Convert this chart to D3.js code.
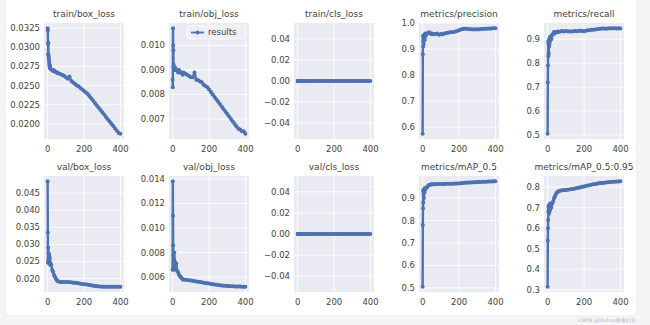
<!DOCTYPE html>
<html>
<head>
<meta charset="utf-8">
<script src="https://cdn.jsdelivr.net/npm/d3@7"></script>
<style>
  body { margin: 0; background: #f4f5f7; }
  text { font-family: "DejaVu Sans", sans-serif; }
</style>
</head>
<body>
<svg id="chart"></svg>
<script>
const width = 650;
const height = 325;

const epochs = [0, 1, 2, 3, 4, 5, 6, 7, 8, 9, 10, 11, 12, 13, 14, 15,
  20, 25, 30, 35, 40, 45, 50, 55, 60,
  70, 80, 90, 100, 110, 120, 130, 140, 150, 160, 170, 180, 190, 200, 210, 220,
  230, 240, 250, 260, 270, 280, 290, 300, 310, 320, 330, 340, 350, 360, 370, 380, 390, 399];

const trainBoxLoss = [0.0325, 0.0322, 0.0305, 0.0291, 0.0306, 0.0290, 0.0287, 0.0284, 0.0282, 0.0279, 0.0277, 0.0276, 0.0274, 0.0276, 0.0273, 0.0272,
  0.0271, 0.0270, 0.0269, 0.0270, 0.0268, 0.0268, 0.0267, 0.0266, 0.0266,
  0.0265, 0.0264, 0.0263, 0.0261, 0.0259, 0.0262, 0.0256, 0.0254, 0.0252, 0.0250, 0.0249, 0.0247, 0.0245, 0.0243, 0.0241, 0.0239,
  0.0236, 0.0233, 0.0230, 0.0227, 0.0224, 0.0221, 0.0218, 0.0215, 0.0212, 0.0209, 0.0206, 0.0203, 0.0200, 0.0197, 0.0194, 0.0191, 0.0188, 0.0187];

const trainObjLoss = [0.0086, 0.0083, 0.0107, 0.0100, 0.0098, 0.0091, 0.0092, 0.0090, 0.0091, 0.0090, 0.0091, 0.0090, 0.0090, 0.0091, 0.0090, 0.0090,
  0.0090, 0.0090, 0.0089, 0.0090, 0.0089, 0.0089, 0.0089, 0.0088, 0.0089,
  0.00885, 0.0088, 0.00875, 0.0087, 0.0087, 0.0089, 0.0086, 0.00858, 0.00853, 0.0085, 0.0084, 0.00835, 0.0083, 0.0082, 0.0081, 0.0080,
  0.0079, 0.0078, 0.0077, 0.0076, 0.0075, 0.0074, 0.0073, 0.0072, 0.0071, 0.0070, 0.0069, 0.0068, 0.0067, 0.0066, 0.00657, 0.0065, 0.0065, 0.0064];

const clsLoss = [0, 0, 0, 0, 0, 0, 0, 0, 0, 0, 0, 0, 0, 0, 0, 0,
  0, 0, 0, 0, 0, 0, 0, 0, 0,
  0, 0, 0, 0, 0, 0, 0, 0, 0, 0, 0, 0, 0, 0, 0, 0,
  0, 0, 0, 0, 0, 0, 0, 0, 0, 0, 0, 0, 0, 0, 0, 0, 0, 0];

const precision = [0.575, 0.88, 0.95, 0.91, 0.93, 0.94, 0.92, 0.95, 0.94, 0.955, 0.945, 0.95, 0.935, 0.955, 0.96, 0.95,
  0.955, 0.96, 0.962, 0.965, 0.962, 0.958, 0.96, 0.958, 0.957,
  0.958, 0.96, 0.955, 0.958, 0.957, 0.96, 0.962, 0.963, 0.965, 0.965, 0.966, 0.968, 0.97, 0.972, 0.975, 0.977,
  0.978, 0.978, 0.977, 0.976, 0.976, 0.975, 0.976, 0.975, 0.976, 0.977, 0.977, 0.978, 0.978, 0.979, 0.978, 0.98, 0.98, 0.98];

const recall = [0.505, 0.72, 0.79, 0.89, 0.83, 0.88, 0.84, 0.89, 0.87, 0.90, 0.88, 0.90, 0.89, 0.91, 0.90, 0.91,
  0.90, 0.92, 0.92, 0.93, 0.925, 0.93, 0.93, 0.932, 0.93,
  0.932, 0.935, 0.933, 0.935, 0.934, 0.933, 0.932, 0.934, 0.935, 0.934, 0.935, 0.936, 0.935, 0.934, 0.936, 0.938,
  0.938, 0.94, 0.94, 0.941, 0.942, 0.943, 0.944, 0.945, 0.945, 0.944, 0.945, 0.946, 0.945, 0.946, 0.946, 0.945, 0.946, 0.945];

const valBoxLoss = [0.0485, 0.0335, 0.0248, 0.0290, 0.0255, 0.0275, 0.0245, 0.0265, 0.0250, 0.0270, 0.0255, 0.0248, 0.0260, 0.0245, 0.0240, 0.0245,
  0.0240, 0.0225, 0.0220, 0.0210, 0.0205, 0.0200, 0.0195, 0.0193, 0.0191,
  0.0190, 0.0190, 0.0190, 0.0190, 0.0190, 0.0189, 0.0189, 0.0188, 0.0188, 0.0187, 0.0186, 0.0185, 0.0184, 0.0183, 0.0183, 0.0182,
  0.0181, 0.0180, 0.0179, 0.0178, 0.0178, 0.0177, 0.0177, 0.0176, 0.0176, 0.0176, 0.0176, 0.0176, 0.0176, 0.0176, 0.0176, 0.0176, 0.0176, 0.0176];

const valObjLoss = [0.0066, 0.0138, 0.0110, 0.0086, 0.0078, 0.0068, 0.0072, 0.0066, 0.0075, 0.0080, 0.0070, 0.0073, 0.0068, 0.0071, 0.0069, 0.0067,
  0.0071, 0.0065, 0.0064, 0.0062, 0.0061, 0.0060, 0.0059, 0.0058, 0.0058,
  0.00578, 0.00576, 0.00574, 0.00572, 0.0057, 0.00568, 0.00565, 0.00563, 0.0056, 0.00558, 0.00555, 0.00553, 0.0055, 0.00548, 0.00545, 0.00543,
  0.0054, 0.00538, 0.00536, 0.00534, 0.00532, 0.0053, 0.0053, 0.00528, 0.00527, 0.00526, 0.00525, 0.00524, 0.00524, 0.00523, 0.00523, 0.00522, 0.00522, 0.00522];

const map50 = [0.505, 0.78, 0.855, 0.935, 0.88, 0.92, 0.93, 0.90, 0.93, 0.94, 0.925, 0.94, 0.935, 0.945, 0.94, 0.945,
  0.945, 0.95, 0.955, 0.958, 0.96, 0.961, 0.962, 0.962, 0.962,
  0.962, 0.963, 0.963, 0.963, 0.963, 0.963, 0.964, 0.964, 0.964, 0.964, 0.964, 0.965, 0.965, 0.965, 0.966, 0.967,
  0.968, 0.968, 0.969, 0.97, 0.97, 0.971, 0.971, 0.972, 0.972, 0.972, 0.973, 0.973, 0.973, 0.974, 0.974, 0.974, 0.975, 0.975];

const map5095 = [0.315, 0.54, 0.60, 0.64, 0.68, 0.70, 0.71, 0.67, 0.69, 0.70, 0.68, 0.71, 0.70, 0.72, 0.69, 0.71,
  0.70, 0.72, 0.73, 0.745, 0.755, 0.765, 0.772, 0.777, 0.78,
  0.782, 0.784, 0.785, 0.786, 0.787, 0.788, 0.79, 0.791, 0.793, 0.795, 0.797, 0.799, 0.801, 0.803, 0.805, 0.807,
  0.809, 0.811, 0.813, 0.815, 0.816, 0.818, 0.819, 0.82, 0.821, 0.822, 0.823, 0.824, 0.825, 0.826, 0.826, 0.827, 0.827, 0.828];

const titles = ["train/box_loss", "train/obj_loss", "train/cls_loss", "metrics/precision", "metrics/recall",
  "val/box_loss", "val/obj_loss", "val/cls_loss", "metrics/mAP_0.5", "metrics/mAP_0.5:0.95"];
const series = [trainBoxLoss, trainObjLoss, clsLoss, precision, recall,
  valBoxLoss, valObjLoss, clsLoss, map50, map5095];

const xTicks = ["0", "200", "400"];
const yTicks = [
  ["0.0200", "0.0225", "0.0250", "0.0275", "0.0300", "0.0325"],
  ["0.007", "0.008", "0.009", "0.010"],
  ["−0.04", "−0.02", "0.00", "0.02", "0.04"],
  ["0.6", "0.7", "0.8", "0.9", "1.0"],
  ["0.5", "0.6", "0.7", "0.8", "0.9"],
  ["0.020", "0.025", "0.030", "0.035", "0.040", "0.045"],
  ["0.006", "0.008", "0.010", "0.012", "0.014"],
  ["−0.04", "−0.02", "0.00", "0.02", "0.04"],
  ["0.5", "0.6", "0.7", "0.8", "0.9"],
  ["0.3", "0.4", "0.5", "0.6", "0.7", "0.8"]
];

const num = s => +s.replace("−", "-");

const svg = d3.select("#chart")
  .attr("width", width)
  .attr("height", height);

// card behind the figure
svg.append("rect")
  .attr("x", 5).attr("y", -6)
  .attr("width", 632).attr("height", 322)
  .attr("rx", 4)
  .attr("fill", "#ffffff")
  .attr("stroke", "#e9eaee");

const colStep = 125, plotW = 80, plotH = 116;
const rowTops = [23, 176];
const lineColor = "#4c72b0";
const textColor = "#3f3f3f";

// matplotlib style 5% margins
function padded(ext) {
  if (ext[0] === ext[1]) return [ext[0] - 0.055, ext[1] + 0.055];
  const m = (ext[1] - ext[0]) * 0.05;
  return [ext[0] - m, ext[1] + m];
}

series.forEach((vals, i) => {
  const left = 44 + colStep * (i % 5);
  const top = rowTops[Math.floor(i / 5)];
  const g = svg.append("g").attr("transform", `translate(${left},${top})`);

  const x = d3.scaleLinear().domain(padded(d3.extent(epochs))).range([0, plotW]);
  const y = d3.scaleLinear().domain(padded(d3.extent(vals))).range([plotH, 0]);

  g.append("rect").attr("width", plotW).attr("height", plotH).attr("fill", "#eaeaf2");

  g.selectAll(".gx").data(xTicks).join("line")
    .attr("x1", d => x(num(d))).attr("x2", d => x(num(d)))
    .attr("y1", 0).attr("y2", plotH)
    .attr("stroke", "#fff").attr("stroke-width", 0.8);
  g.selectAll(".gy").data(yTicks[i]).join("line")
    .attr("y1", d => y(num(d))).attr("y2", d => y(num(d)))
    .attr("x1", 0).attr("x2", plotW)
    .attr("stroke", "#fff").attr("stroke-width", 0.8);

  g.selectAll(".tx").data(xTicks).join("text")
    .attr("x", d => x(num(d))).attr("y", plotH + 13)
    .attr("text-anchor", "middle")
    .attr("font-size", 8.5).attr("fill", textColor)
    .text(d => d);
  g.selectAll(".ty").data(yTicks[i]).join("text")
    .attr("x", -4).attr("y", d => y(num(d)))
    .attr("dy", "0.35em")
    .attr("text-anchor", "end")
    .attr("font-size", 8.5).attr("fill", textColor)
    .text(d => d);

  g.append("text")
    .attr("x", plotW / 2).attr("y", -6)
    .attr("text-anchor", "middle")
    .attr("font-size", 9).attr("fill", textColor)
    .text(titles[i]);

  const pts = epochs.map((e, k) => [e, vals[k]]);
  g.append("path")
    .datum(pts)
    .attr("fill", "none")
    .attr("stroke", lineColor)
    .attr("stroke-width", 2.4)
    .attr("stroke-linejoin", "round")
    .attr("d", d3.line().x(d => x(d[0])).y(d => y(d[1])));
  g.selectAll(".pt").data(pts).join("circle")
    .attr("cx", d => x(d[0])).attr("cy", d => y(d[1]))
    .attr("r", 2)
    .attr("fill", lineColor);

  // legend only on the second panel
  if (i === 1) {
    const lg = g.append("g").attr("transform", "translate(18,3)");
    lg.append("rect")
      .attr("width", 59).attr("height", 13).attr("rx", 2)
      .attr("fill", "#eeeef5").attr("stroke", "#f8f8fb");
    lg.append("line")
      .attr("x1", 4).attr("x2", 17).attr("y1", 6.5).attr("y2", 6.5)
      .attr("stroke", lineColor).attr("stroke-width", 1.8);
    lg.append("circle").attr("cx", 10.5).attr("cy", 6.5).attr("r", 1.9).attr("fill", lineColor);
    lg.append("text")
      .attr("x", 21).attr("y", 6.5).attr("dy", "0.35em")
      .attr("font-size", 8.5).attr("fill", textColor)
      .text("results");
  }
});

svg.append("text")
  .attr("x", 636).attr("y", 322)
  .attr("text-anchor", "end")
  .attr("font-size", 5).attr("fill", "#b8b8bc")
  .text("CSDN @Wyhuo图像识别");
</script>
</body>
</html>
